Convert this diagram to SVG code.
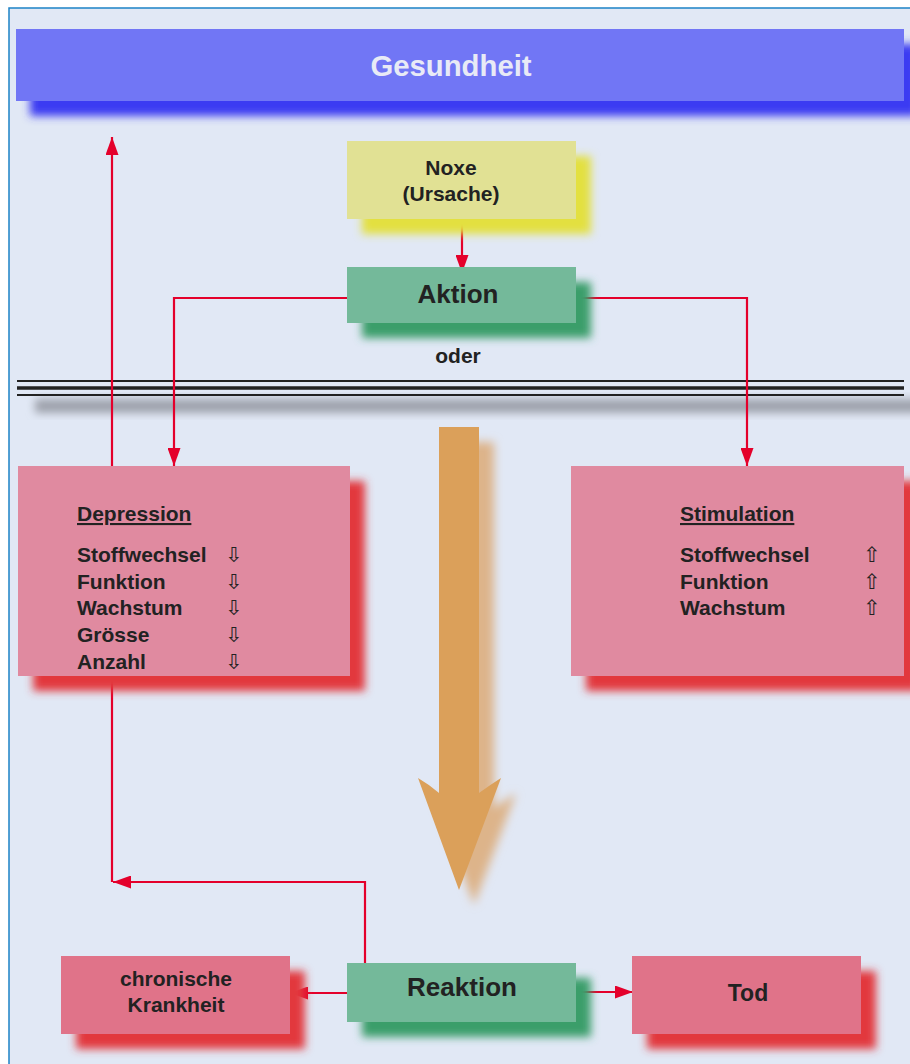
<svg xmlns="http://www.w3.org/2000/svg" width="910" height="1064" viewBox="0 0 910 1064">
<defs>
<style>
.t{font-family:"Liberation Sans",Arial,sans-serif;font-weight:bold;fill:#222}
.c{text-anchor:middle}
.sym{font-family:"DejaVu Sans",sans-serif;font-weight:normal;fill:#222;text-anchor:middle;font-size:21px}
.red{fill:none;stroke:#E4002B;stroke-width:2.2}
</style>
<filter id="blur" x="-20%" y="-50%" width="140%" height="200%"><feGaussianBlur stdDeviation="4"/></filter>
<filter id="blur2" x="-20%" y="-20%" width="140%" height="140%"><feGaussianBlur stdDeviation="5"/></filter>
<marker id="ah" viewBox="0 0 18 13" refX="18" refY="6.5" markerWidth="18" markerHeight="13" markerUnits="userSpaceOnUse" orient="auto">
<path d="M0,0 L18,6.5 L0,13 Z" fill="#E4002B"/>
</marker>
</defs>
<rect x="0" y="0" width="910" height="1064" fill="#ffffff"/>
<rect x="9" y="8" width="910" height="1070" fill="#E1E8F5" stroke="#1C82C6" stroke-width="1.5"/>

<!-- separator -->
<g id="separator">
<rect x="35" y="399" width="890" height="14" fill="#9EA2AC" filter="url(#blur)"/>
<line x1="17" y1="381" x2="904" y2="381" stroke="#222" stroke-width="2"/>
<line x1="17" y1="388" x2="904" y2="388" stroke="#222" stroke-width="3.5"/>
<line x1="17" y1="395" x2="904" y2="395" stroke="#222" stroke-width="2"/>
</g>

<!-- connectors -->
<g id="connectors">
<path class="red" d="M112,882 L112,137" marker-end="url(#ah)"/>
<path class="red" d="M462,219 L462,273" marker-end="url(#ah)"/>
<path class="red" d="M347,298 L174,298 L174,466" marker-end="url(#ah)"/>
<path class="red" d="M576,298 L747,298 L747,466" marker-end="url(#ah)"/>
<path class="red" d="M365,964 L365,882 L113,882" marker-end="url(#ah)"/>
<path class="red" d="M347,993 L290,993" marker-end="url(#ah)"/>
<path class="red" d="M576,992 L633,992" marker-end="url(#ah)"/>
</g>

<!-- big arrow -->
<g id="bigarrow">
<path d="M454,442 L494,442 L494,808 Q505,800 516,793 L474,905 L433,793 Q445,800 454,808 Z" fill="#DDB48A" filter="url(#blur2)"/>
<path d="M439,427 L479,427 L479,793 Q490,785 501,778 L459,890 L418,778 Q430,785 439,793 Z" fill="#DBA05A"/>
</g>

<g id="gesundheit">
<rect x="30" y="44" width="888" height="72" fill="#3A3AF2" filter="url(#blur)"/>
<rect x="16" y="29" width="888" height="72" fill="#7176F5"/>
<text class="t c" x="451" y="76" font-size="29.3" style="fill:#E8EAF6">Gesundheit</text>
</g>

<g id="noxe">
<rect x="362" y="156" width="229" height="78" fill="#E3E040" filter="url(#blur)"/>
<rect x="347" y="141" width="229" height="78" fill="#E1E194"/>
<text class="t c" x="451" y="175" font-size="21">Noxe</text>
<text class="t c" x="451" y="201" font-size="21">(Ursache)</text>
</g>

<g id="aktion">
<rect x="362" y="282" width="229" height="56" fill="#3A9E6A" filter="url(#blur)"/>
<rect x="347" y="267" width="229" height="56" fill="#74B99A"/>
<text class="t c" x="458" y="303" font-size="26">Aktion</text>
</g>

<text class="t c" id="oder" x="458" y="363" font-size="21">oder</text>

<g id="depression">
<rect x="33" y="481" width="332" height="210" fill="#E2383E" filter="url(#blur)"/>
<rect x="18" y="466" width="332" height="210" fill="#E08AA0"/>
<text class="t" x="77" y="521" font-size="21" text-decoration="underline">Depression</text>
<text class="t" x="77" y="562" font-size="21">Stoffwechsel</text>
<text class="t" x="77" y="589" font-size="21">Funktion</text>
<text class="t" x="77" y="615" font-size="21">Wachstum</text>
<text class="t" x="77" y="642" font-size="21">Grösse</text>
<text class="t" x="77" y="669" font-size="21">Anzahl</text>
<text class="sym" x="234" y="562">⇩</text>
<text class="sym" x="234" y="589">⇩</text>
<text class="sym" x="234" y="615">⇩</text>
<text class="sym" x="234" y="642">⇩</text>
<text class="sym" x="234" y="669">⇩</text>
</g>

<g id="stimulation">
<rect x="586" y="481" width="333" height="210" fill="#E2383E" filter="url(#blur)"/>
<rect x="571" y="466" width="333" height="210" fill="#E08AA0"/>
<text class="t" x="680" y="521" font-size="21" text-decoration="underline">Stimulation</text>
<text class="t" x="680" y="562" font-size="21">Stoffwechsel</text>
<text class="t" x="680" y="589" font-size="21">Funktion</text>
<text class="t" x="680" y="615" font-size="21">Wachstum</text>
<text class="sym" x="872" y="562">⇧</text>
<text class="sym" x="872" y="589">⇧</text>
<text class="sym" x="872" y="615">⇧</text>
</g>

<g id="chronisch">
<rect x="76" y="971" width="229" height="78" fill="#E2383E" filter="url(#blur)"/>
<rect x="61" y="956" width="229" height="78" fill="#E07389"/>
<text class="t c" x="176" y="986" font-size="21">chronische</text>
<text class="t c" x="176" y="1012" font-size="21">Krankheit</text>
</g>

<g id="reaktion">
<rect x="362" y="978" width="229" height="59" fill="#3A9E6A" filter="url(#blur)"/>
<rect x="347" y="963" width="229" height="59" fill="#74B99A"/>
<text class="t c" x="462" y="996" font-size="26">Reaktion</text>
</g>

<g id="tod">
<rect x="647" y="971" width="229" height="78" fill="#E2383E" filter="url(#blur)"/>
<rect x="632" y="956" width="229" height="78" fill="#E07389"/>
<text class="t c" x="748" y="1001" font-size="23">Tod</text>
</g>
</svg>
